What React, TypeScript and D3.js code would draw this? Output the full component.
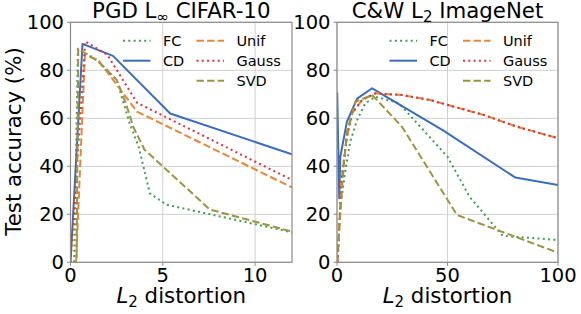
import React from 'react';
import * as d3 from 'd3';

// ---- PGD L-inf, CIFAR-10 (left panel) ----
const pgdFcX = [0.2, 0.4, 1.5, 2.5, 3.2, 3.7, 4.3, 5.2, 12];
const pgdFcY = [0, 89, 84, 76, 58, 48, 28.7, 24, 12.5];
const pgdCdX = [0, 0.65, 2.3, 5.4, 12];
const pgdCdY = [0, 91, 86, 62, 45];
const pgdUnifX = [0.3, 0.78, 1.5, 3.6, 12];
const pgdUnifY = [0, 86.4, 84.3, 62.8, 31.2];
const pgdGaussX = [0, 0.8, 2.0, 3.6, 12];
const pgdGaussY = [0, 92, 86.4, 66.5, 34.3];
const pgdSvdX = [0.33, 0.42, 1.5, 2.5, 3.0, 3.4, 4.0, 7.55, 12];
const pgdSvdY = [2, 89, 83.6, 76, 66.3, 56.5, 47, 22, 12.8];

// ---- C&W L2, ImageNet (right panel) ----
const cwFcX = [2.1, 3.8, 6, 9.1, 12.8, 17.4, 28, 50, 60, 75, 100];
const cwFcY = [26.7, 38.5, 50.3, 59.3, 66.3, 69, 66.3, 44, 27.3, 11, 9.3];
const cwCdX = [0.1, 1.0, 1.5, 4.5, 9.1, 15.9, 48, 80.7, 100];
const cwCdY = [70.7, 26.7, 44, 58.6, 68.2, 72.5, 55, 35.3, 32.2];
const cwUnifX = [0.3, 2, 4.5, 6.8, 11.3, 17.4, 29.4, 42.2, 66.4, 81.4, 100];
const cwUnifY = [0, 34.3, 52.3, 62, 67.6, 70.4, 69.7, 67.6, 61.4, 56.5, 51.7];
const cwGaussX = [0.3, 2, 4.5, 6.8, 11.3, 17.4, 29.4, 42.2, 66.4, 81.4, 100];
const cwGaussY = [0, 34.3, 52.3, 62, 67.6, 70.4, 69.7, 67.6, 61.4, 56.5, 51.7];
const cwSvdX = [0, 1.5, 3, 4.5, 8.3, 15.9, 29.4, 54.3, 100];
const cwSvdY = [0, 20.4, 39.8, 54.4, 66.9, 69.7, 56.5, 19.7, 4];

const yTicks = [0, 20, 40, 60, 80, 100];
const pgdXTicks = [0, 5, 10];
const cwXTicks = [0, 50, 100];

const styles: Record<string, { color: string; dash: string }> = {
  FC: { color: '#3f9f4c', dash: '2,3.3' },
  CD: { color: '#3b6dbd', dash: '' },
  Unif: { color: '#e5873a', dash: '7.4,3.2' },
  Gauss: { color: '#d8333a', dash: '2,3.3' },
  SVD: { color: '#9c9442', dash: '7.4,3.2' },
};

const FONT = 'DejaVu Sans';
const TOP = 22.3;
const BOTTOM = 262.3;
const GRID = '#d0d0d0';
const SPINE = '#8c8c8c';

type Series = { name: string; x: number[]; y: number[] };

function Panel(props: {
  id: string;
  left: number;
  right: number;
  xMax: number;
  xTicks: number[];
  titleA: string;
  titleSub: string;
  titleB: string;
  series: Series[];
}) {
  const { id, left, right, xMax, xTicks, series } = props;
  const x = d3.scaleLinear().domain([0, xMax]).range([left, right]);
  const y = d3.scaleLinear().domain([0, 100]).range([BOTTOM, TOP]);
  const cx = (left + right) / 2;

  const lineGen = d3
    .line<[number, number]>()
    .x((d) => x(d[0]))
    .y((d) => y(d[1]));

  // legend layout (two columns, no frame)
  const col1 = [series[0], series[1]];
  const col2 = [series[2], series[3], series[4]];
  const legX1 = left + 52.5;
  const legX2 = left + 126;
  const rowY = (i: number) => 40.7 + i * 20;

  const legendRow = (s: Series, i: number, lx: number) => (
    <g key={s.name}>
      <line
        x1={lx}
        x2={lx + 27.5}
        y1={rowY(i)}
        y2={rowY(i)}
        stroke={styles[s.name].color}
        strokeWidth={2}
        strokeDasharray={styles[s.name].dash}
      />
      <text x={lx + 40} y={rowY(i)} dy="0.36em" fontSize={14.5} fontFamily={FONT} fill="#000">
        {s.name}
      </text>
    </g>
  );

  return (
    <g>
      <defs>
        <clipPath id={id}>
          <rect x={left} y={TOP} width={right - left} height={BOTTOM - TOP} />
        </clipPath>
      </defs>
      {/* grid */}
      {xTicks.map((t) => (
        <line key={'gx' + t} x1={x(t)} x2={x(t)} y1={TOP} y2={BOTTOM} stroke={GRID} strokeWidth={1} />
      ))}
      {yTicks.map((t) => (
        <line key={'gy' + t} x1={left} x2={right} y1={y(t)} y2={y(t)} stroke={GRID} strokeWidth={1} />
      ))}
      {/* series */}
      <g clipPath={`url(#${id})`}>
        {series.map((s) => (
          <path
            key={s.name}
            d={lineGen(s.x.map((v, i) => [v, s.y[i]] as [number, number])) || ''}
            fill="none"
            stroke={styles[s.name].color}
            strokeWidth={2}
            strokeDasharray={styles[s.name].dash}
            strokeLinejoin="round"
          />
        ))}
      </g>
      {/* frame */}
      <rect x={left} y={TOP} width={right - left} height={BOTTOM - TOP} fill="none" stroke={SPINE} strokeWidth={1.2} />
      {/* y ticks */}
      {yTicks.map((t) => (
        <g key={'yt' + t}>
          <line x1={left - 3.5} x2={left} y1={y(t)} y2={y(t)} stroke={SPINE} strokeWidth={1} />
          <text x={left - 6.5} y={y(t)} dy="0.36em" textAnchor="end" fontSize={19.5} fontFamily={FONT} fill="#000">
            {t}
          </text>
        </g>
      ))}
      {/* x ticks */}
      {xTicks.map((t) => (
        <g key={'xt' + t}>
          <line x1={x(t)} x2={x(t)} y1={BOTTOM} y2={BOTTOM + 3.5} stroke={SPINE} strokeWidth={1} />
          <text x={x(t)} y={281.7} textAnchor="middle" fontSize={19.5} fontFamily={FONT} fill="#000">
            {t}
          </text>
        </g>
      ))}
      {/* title */}
      <text x={cx} y={18.3} textAnchor="middle" fontSize={21.3} fontFamily={FONT} fill="#000">
        <tspan>{props.titleA}</tspan>
        <tspan dy={4} fontSize={15}>{props.titleSub}</tspan>
        <tspan dy={-4}>{props.titleB}</tspan>
      </text>
      {/* x label */}
      <text x={cx} y={303.3} textAnchor="middle" fontSize={21.3} fontFamily={FONT} fill="#000">
        <tspan fontStyle="italic">L</tspan>
        <tspan dy={4} fontSize={15}>2</tspan>
        <tspan dy={-4}> distortion</tspan>
      </text>
      {/* legend */}
      {col1.map((s, i) => legendRow(s, i, legX1))}
      {col2.map((s, i) => legendRow(s, i, legX2))}
    </g>
  );
}

export default function App() {
  const pgdSeries: Series[] = [
    { name: 'FC', x: pgdFcX, y: pgdFcY },
    { name: 'CD', x: pgdCdX, y: pgdCdY },
    { name: 'Unif', x: pgdUnifX, y: pgdUnifY },
    { name: 'Gauss', x: pgdGaussX, y: pgdGaussY },
    { name: 'SVD', x: pgdSvdX, y: pgdSvdY },
  ];
  const cwSeries: Series[] = [
    { name: 'FC', x: cwFcX, y: cwFcY },
    { name: 'CD', x: cwCdX, y: cwCdY },
    { name: 'Unif', x: cwUnifX, y: cwUnifY },
    { name: 'Gauss', x: cwGaussX, y: cwGaussY },
    { name: 'SVD', x: cwSvdX, y: cwSvdY },
  ];

  return (
    <svg
      width={581}
      height={314}
      style={{ position: 'absolute', left: 0, top: 0, background: '#fff' }}
    >
      <rect width={581} height={314} fill="#fff" />
      <text
        transform="translate(20.5,141.5) rotate(-90)"
        textAnchor="middle"
        fontSize={21.3}
        fontFamily={FONT}
        fill="#000"
      >
        Test accuracy (%)
      </text>
      <Panel
        id="clipL"
        left={70.5}
        right={292}
        xMax={12}
        xTicks={pgdXTicks}
        titleA="PGD L"
        titleSub="∞"
        titleB=" CIFAR-10"
        series={pgdSeries}
      />
      <Panel
        id="clipR"
        left={337}
        right={558}
        xMax={100}
        xTicks={cwXTicks}
        titleA="C&W L"
        titleSub="2"
        titleB=" ImageNet"
        series={cwSeries}
      />
    </svg>
  );
}
